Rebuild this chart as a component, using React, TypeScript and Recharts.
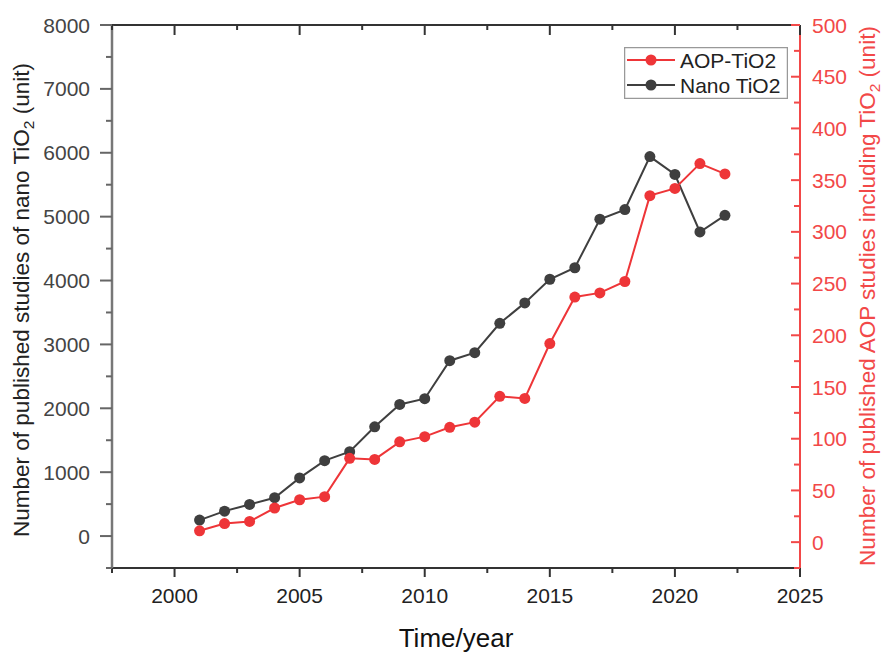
import React from 'react';
import { LineChart, Line, XAxis, YAxis, Legend } from 'recharts';

const years = [
  2001, 2002, 2003, 2004, 2005, 2006, 2007, 2008, 2009, 2010, 2011,
  2012, 2013, 2014, 2015, 2016, 2017, 2018, 2019, 2020, 2021, 2022,
];
const nanoTiO2 = [
  250, 390, 495, 600, 910, 1180, 1320, 1710, 2060, 2150, 2745,
  2870, 3330, 3650, 4020, 4200, 4960, 5110, 5940, 5660, 4760, 5020,
];
const aopTiO2 = [
  11, 18, 20, 33, 41, 44, 81, 80, 97, 102, 111,
  116, 141, 139, 192, 237, 241, 252, 335, 342, 366, 356,
];

const xTicks = [1997.5, 2000, 2002.5, 2005, 2007.5, 2010, 2012.5, 2015, 2017.5, 2020, 2022.5, 2025];
const xMajor = [2000, 2005, 2010, 2015, 2020, 2025];
const leftTicks = [-500, 0, 500, 1000, 1500, 2000, 2500, 3000, 3500, 4000, 4500, 5000, 5500, 6000, 6500, 7000, 7500, 8000];
const leftMajor = [0, 1000, 2000, 3000, 4000, 5000, 6000, 7000, 8000];
const rightTicks = [
  -25, 0, 25, 50, 75, 100, 125, 150, 175, 200, 225, 250,
  275, 300, 325, 350, 375, 400, 425, 450, 475, 500,
];
const rightMajor = [0, 50, 100, 150, 200, 250, 300, 350, 400, 450, 500];

const RED = '#ee3538';
const AXIS_RED = '#f24848';
const DARK = '#3f3f3f';
const FONT = '"Liberation Sans", Arial, sans-serif';

const series = [
  { key: 'aop', name: 'AOP-TiO2', color: RED },
  { key: 'nano', name: 'Nano TiO2', color: DARK },
];

const data = years.map((year, i) => ({ year, nano: nanoTiO2[i], aop: aopTiO2[i] }));

const BottomTick = ({ x, y, payload }: any) => {
  const major = xMajor.includes(payload.value);
  return (
    <g>
      <line x1={x} x2={x} y1={y} y2={y + (major ? 9 : 5)} stroke="#333" strokeWidth={2} />
      {major && (
        <text x={x} y={y + 35} textAnchor="middle" fontSize={21} fontFamily={FONT} fill="#222">
          {payload.value}
        </text>
      )}
    </g>
  );
};

const TopTick = ({ x, y, payload }: any) => {
  const major = xMajor.includes(payload.value);
  return <line x1={x} x2={x} y1={y} y2={y + (major ? 10 : 5)} stroke="#333" strokeWidth={2} />;
};

const LeftTick = ({ x, y, payload }: any) => {
  const major = leftMajor.includes(payload.value);
  return (
    <g>
      <line x1={x - (major ? 12 : 6)} x2={x} y1={y} y2={y} stroke="#666" strokeWidth={2} />
      {major && (
        <text x={x - 22} y={y} dy="0.36em" textAnchor="end" fontSize={21} fontFamily={FONT} fill="#444">
          {payload.value}
        </text>
      )}
    </g>
  );
};

const RightTick = ({ x, y, payload }: any) => {
  const major = rightMajor.includes(payload.value);
  return (
    <g>
      <line x1={x - (major ? 9 : 6)} x2={x} y1={y} y2={y} stroke={AXIS_RED} strokeWidth={2} />
      {major && (
        <text x={x + 12} y={y} dy="0.36em" textAnchor="start" fontSize={21} fontFamily={FONT} fill={AXIS_RED}>
          {payload.value}
        </text>
      )}
    </g>
  );
};

// rotated axis titles, TiO2 with a lowered subscript
const LeftTitle = ({ viewBox }: any) => {
  const cx = viewBox.x + 29;
  const cy = 300;
  return (
    <text
      x={cx}
      y={cy}
      transform={`rotate(-90, ${cx}, ${cy})`}
      textAnchor="middle"
      fontSize={22.5}
      fontFamily={FONT}
      fill="#222"
    >
      Number of published studies of nano TiO<tspan dy={5} fontSize={15.5}>2</tspan>
      <tspan dy={-5}> (unit)</tspan>
    </text>
  );
};

const RightTitle = ({ viewBox }: any) => {
  const cx = viewBox.x + 75;
  const cy = 296;
  return (
    <text
      x={cx}
      y={cy}
      transform={`rotate(-90, ${cx}, ${cy})`}
      textAnchor="middle"
      fontSize={22.5}
      fontFamily={FONT}
      fill={AXIS_RED}
    >
      Number of published AOP studies including TiO<tspan dy={5} fontSize={15.5}>2</tspan>
      <tspan dy={-5}> (unit)</tspan>
    </text>
  );
};

const BottomTitle = ({ viewBox }: any) => (
  <text
    x={viewBox.x + viewBox.width / 2}
    y={viewBox.y + 79}
    textAnchor="middle"
    fontSize={26}
    fontFamily={FONT}
    fill="#111"
  >
    Time/year
  </text>
);

const LegendBox = () => (
  <svg width={164} height={52} style={{ display: 'block' }}>
    <rect x={0.5} y={0.5} width={163} height={51} fill="#fff" stroke="#999" strokeWidth={1.5} />
    {series.map((s, i) => {
      const cy = 13 + i * 25;
      return (
        <g key={s.key}>
          <line x1={3} x2={51} y1={cy} y2={cy} stroke={s.color} strokeWidth={2} />
          <circle cx={27} cy={cy} r={5.5} fill={s.color} />
          <text x={56} y={cy + 7.5} fontSize={21} fontFamily={FONT} fill="#222">
            {s.name}
          </text>
        </g>
      );
    })}
  </svg>
);

export default function App() {
  return (
    <div style={{ position: 'absolute', left: 0, top: 0, background: '#fff' }}>
      <LineChart width={884} height={653} data={data} margin={{ top: 0, right: 0, bottom: 0, left: 0 }}>
        <XAxis
          dataKey="year"
          type="number"
          domain={[1997.5, 2025]}
          ticks={xTicks}
          interval={0}
          allowDataOverflow
          height={85}
          tickSize={0}
          tickMargin={0}
          tickLine={false}
          tick={<BottomTick />}
          axisLine={{ stroke: '#333', strokeWidth: 2 }}
          label={{ content: <BottomTitle /> }}
        />
        <XAxis
          xAxisId="top"
          orientation="top"
          dataKey="year"
          type="number"
          domain={[1997.5, 2025]}
          ticks={xTicks}
          interval={0}
          allowDataOverflow
          height={25}
          tickSize={0}
          tickMargin={0}
          tickLine={false}
          tick={<TopTick />}
          axisLine={{ stroke: '#333', strokeWidth: 2 }}
        />
        <YAxis
          yAxisId="left"
          type="number"
          domain={[-500, 8000]}
          ticks={leftTicks}
          interval={0}
          allowDataOverflow
          width={112}
          tickSize={0}
          tickMargin={0}
          tickLine={false}
          tick={<LeftTick />}
          axisLine={{ stroke: '#777', strokeWidth: 2.5 }}
          label={{ content: <LeftTitle /> }}
        />
        <YAxis
          yAxisId="right"
          orientation="right"
          type="number"
          domain={[-25, 500]}
          ticks={rightTicks}
          interval={0}
          allowDataOverflow
          width={84}
          tickSize={0}
          tickMargin={0}
          tickLine={false}
          tick={<RightTick />}
          axisLine={{ stroke: AXIS_RED, strokeWidth: 2 }}
          label={{ content: <RightTitle /> }}
        />
        <Legend
          layout="vertical"
          align="center"
          verticalAlign="middle"
          content={<LegendBox />}
          wrapperStyle={{ position: 'absolute', left: 624, top: 47, width: 164 }}
        />
        <Line
          yAxisId="left"
          dataKey="nano"
          name="Nano TiO2"
          stroke={DARK}
          strokeWidth={2}
          dot={{ r: 5.5, fill: DARK, stroke: DARK, strokeWidth: 0 }}
          activeDot={false}
          isAnimationActive={false}
        />
        <Line
          yAxisId="right"
          dataKey="aop"
          name="AOP-TiO2"
          stroke={RED}
          strokeWidth={2}
          dot={{ r: 5.5, fill: RED, stroke: RED, strokeWidth: 0 }}
          activeDot={false}
          isAnimationActive={false}
        />
      </LineChart>
    </div>
  );
}
